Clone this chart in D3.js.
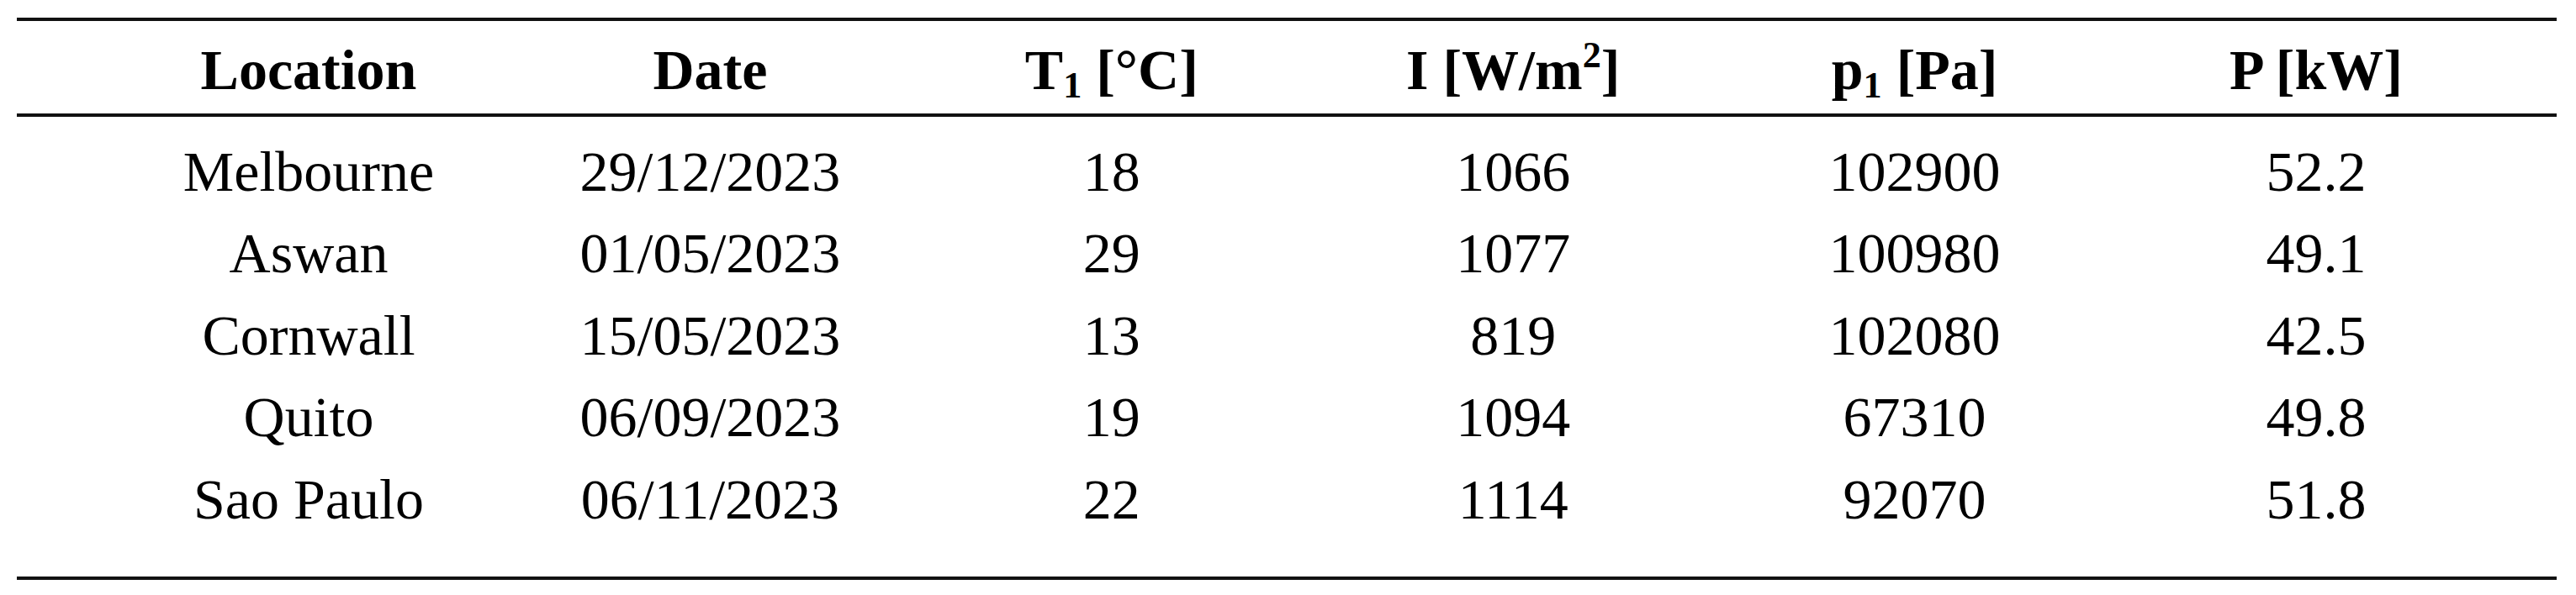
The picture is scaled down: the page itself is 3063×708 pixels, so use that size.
<!DOCTYPE html>
<html><head><meta charset="utf-8">
<script src="https://cdn.jsdelivr.net/npm/d3@7"></script>
<style>body{margin:0;background:#fff}</style>
</head><body>
<div id="vis"></div>
<script>
var locations = ["Melbourne", "Aswan", "Cornwall", "Quito", "Sao Paulo"];
var dates = ["29/12/2023", "01/05/2023", "15/05/2023", "06/09/2023", "06/11/2023"];
var temps = ["18", "29", "13", "19", "22"];
var irradiance = ["1066", "1077", "819", "1094", "1114"];
var pressure = ["102900", "100980", "102080", "67310", "92070"];
var power = ["52.2", "49.1", "42.5", "49.8", "51.8"];
var columns = ["loc", "date", "t", "i", "p1", "pw"];

var width = 3063, height = 708;
var svg = d3.select("#vis").append("svg").attr("width", width).attr("height", height);

var x = d3.scalePoint().domain(columns).range([367, 2754]);
var y = d3.scalePoint().domain(d3.range(locations.length)).range([203, 593]);
var font = "'Liberation Serif', serif";
var fs = 68;

// rules
[[23, 4], [137, 4], [688, 4]].forEach(function(l) {
    svg.append("line").attr("x1", 20).attr("x2", 3040)
        .attr("y1", l[0]).attr("y2", l[0])
        .attr("stroke", "#111").attr("stroke-width", l[1]);
});

// header
var head = svg.append("g").attr("font-family", font).attr("font-size", fs)
    .attr("font-weight", "bold").attr("text-anchor", "middle");
function hdr(col, parts) {
    var t = head.append("text").attr("x", x(col)).attr("y", 82).attr("dy", "0.35em");
    parts.forEach(function(p) {
        var s = t.append("tspan").text(p[0]);
        if (p[1] == "sub") s.attr("font-size", fs * 0.65).attr("dy", 10);
        if (p[1] == "sup") s.attr("font-size", fs * 0.65).attr("dy", -26);
        if (p[1] == "back") s.attr("dy", p[2]);
    });
}
hdr("loc", [["Location"]]);
hdr("date", [["Date"]]);
hdr("t", [["T"], ["1", "sub"], [" [°C]", "back", -10]]);
hdr("i", [["I [W/m"], ["2", "sup"], ["]", "back", 26]]);
hdr("p1", [["p"], ["1", "sub"], [" [Pa]", "back", -10]]);
hdr("pw", [["P [kW]"]]);

// body
var rows = locations.map(function(d, i) {
    return [d, dates[i], temps[i], irradiance[i], pressure[i], power[i]];
});
var body = svg.append("g").attr("font-family", font).attr("font-size", fs).attr("text-anchor", "middle");
rows.forEach(function(r, i) {
    body.selectAll(null).data(r).enter().append("text")
        .attr("x", function(d, j) { return x(columns[j]); })
        .attr("y", y(i)).attr("dy", "0.35em")
        .text(function(d) { return d; });
});
</script>
</body></html>
